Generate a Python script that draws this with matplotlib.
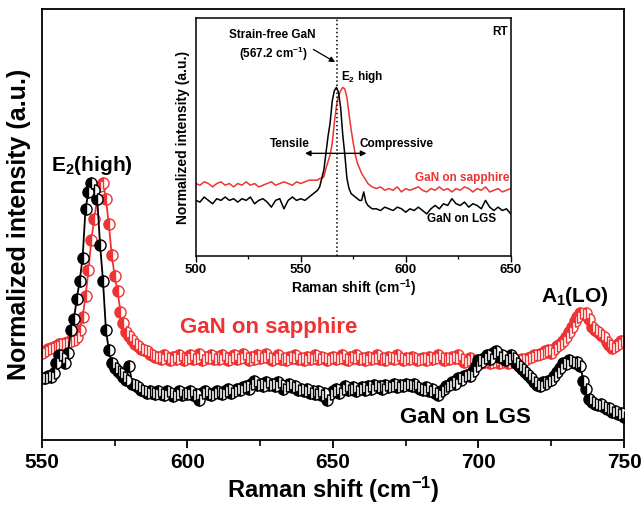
import numpy as np
import matplotlib
matplotlib.use("Agg")
import matplotlib.pyplot as plt
from matplotlib.ticker import MultipleLocator

plt.rcParams['font.family'] = ['Liberation Sans', 'DejaVu Sans']
plt.rcParams['font.weight'] = 'bold'
plt.rcParams['mathtext.fontset'] = 'custom'
plt.rcParams['mathtext.rm'] = 'Liberation Sans:bold'
plt.rcParams['mathtext.default'] = 'rm'

# ---------------- main spectra (Raman shift 550..750 cm-1, 1 cm-1 step) -------------
raman_shift = np.arange(550, 751, 1.0)

gan_on_lgs = [
    0.24, 0.24, 0.25, 0.245, 0.26, 0.30, 0.33, 0.32, 0.30, 0.34,
    0.43, 0.47, 0.55, 0.62, 0.71, 0.90, 0.965, 1.0, 0.975, 0.94,
    0.76, 0.62, 0.43, 0.35, 0.30, 0.28, 0.27, 0.26, 0.245, 0.235,
    0.29, 0.22, 0.215, 0.205, 0.195, 0.19, 0.183, 0.19, 0.185, 0.18,
    0.19, 0.18, 0.175, 0.19, 0.185, 0.17, 0.18, 0.19, 0.175, 0.185,
    0.18, 0.19, 0.175, 0.18, 0.155, 0.185, 0.19, 0.18, 0.175, 0.185,
    0.19, 0.185, 0.18, 0.19, 0.20, 0.185, 0.19, 0.20, 0.195, 0.205,
    0.21, 0.20, 0.22, 0.23, 0.215, 0.22, 0.21, 0.225, 0.215, 0.22,
    0.21, 0.225, 0.215, 0.20, 0.21, 0.22, 0.205, 0.21, 0.195, 0.20,
    0.19, 0.20, 0.185, 0.19, 0.18, 0.19, 0.175, 0.185, 0.155, 0.18,
    0.19, 0.20, 0.185, 0.20, 0.21, 0.195, 0.20, 0.205, 0.19, 0.20,
    0.205, 0.195, 0.21, 0.20, 0.215, 0.205, 0.21, 0.20, 0.215, 0.205,
    0.21, 0.22, 0.205, 0.215, 0.21, 0.22, 0.215, 0.21, 0.22, 0.205,
    0.20, 0.195, 0.205, 0.19, 0.20, 0.185, 0.175, 0.19, 0.20, 0.21,
    0.215, 0.225, 0.22, 0.24, 0.235, 0.25, 0.255, 0.25, 0.27, 0.29,
    0.31, 0.305, 0.32, 0.33, 0.315, 0.34, 0.345, 0.325, 0.33, 0.31,
    0.32, 0.33, 0.32, 0.30, 0.29, 0.275, 0.265, 0.255, 0.24, 0.225,
    0.215, 0.21, 0.225, 0.22, 0.23, 0.235, 0.25, 0.265, 0.28, 0.30,
    0.295, 0.31, 0.305, 0.30, 0.305, 0.29, 0.23, 0.20, 0.16, 0.15,
    0.14, 0.135, 0.14, 0.13, 0.12, 0.125, 0.11, 0.115, 0.10, 0.105,
    0.09,
]

gan_on_sapphire = [
    0.34, 0.345, 0.355, 0.36, 0.362, 0.365, 0.372, 0.375, 0.377, 0.38,
    0.385, 0.39, 0.40, 0.43, 0.48, 0.56, 0.66, 0.78, 0.86, 0.94,
    0.99, 1.0, 0.94, 0.84, 0.72, 0.64, 0.58, 0.50, 0.455, 0.42,
    0.405, 0.39, 0.375, 0.365, 0.355, 0.35, 0.345, 0.335, 0.33, 0.325,
    0.325, 0.315, 0.33, 0.32, 0.31, 0.325, 0.315, 0.33, 0.32, 0.31,
    0.32, 0.33, 0.315, 0.32, 0.335, 0.31, 0.325, 0.32, 0.33, 0.315,
    0.325, 0.315, 0.33, 0.32, 0.31, 0.325, 0.33, 0.315, 0.32, 0.335,
    0.32, 0.31, 0.325, 0.315, 0.33, 0.32, 0.325, 0.335, 0.32, 0.31,
    0.32, 0.33, 0.315, 0.32, 0.31, 0.325, 0.32, 0.33, 0.315, 0.32,
    0.31, 0.325, 0.315, 0.32, 0.33, 0.315, 0.325, 0.32, 0.31, 0.32,
    0.325, 0.315, 0.32, 0.33, 0.315, 0.31, 0.325, 0.32, 0.33, 0.315,
    0.32, 0.31, 0.325, 0.315, 0.32, 0.33, 0.315, 0.32, 0.31, 0.325,
    0.32, 0.315, 0.33, 0.32, 0.31, 0.32, 0.315, 0.325, 0.32, 0.31,
    0.315, 0.32, 0.31, 0.325, 0.315, 0.32, 0.33, 0.32, 0.31, 0.32,
    0.315, 0.325, 0.32, 0.33, 0.315, 0.305, 0.31, 0.32, 0.31, 0.305,
    0.31, 0.30, 0.305, 0.31, 0.30, 0.305, 0.31, 0.30, 0.305, 0.31,
    0.30, 0.305, 0.31, 0.305, 0.31, 0.315, 0.31, 0.32, 0.325, 0.33,
    0.33, 0.335, 0.34, 0.345, 0.35, 0.34, 0.355, 0.365, 0.375, 0.385,
    0.40, 0.42, 0.44, 0.465, 0.48, 0.495, 0.49, 0.495, 0.47, 0.44,
    0.43, 0.42, 0.41, 0.40, 0.38, 0.37, 0.36, 0.365, 0.375, 0.385,
    0.38,
]

# ---------------- inset spectra (500..650 cm-1) -------------
inset_shift = (list(range(500, 556, 2)) + list(range(556, 585, 1))
               + list(range(586, 651, 2)))

inset_lgs = [
    0.33, 0.32, 0.35, 0.33, 0.31, 0.34, 0.33, 0.35, 0.33, 0.34,
    0.32, 0.34, 0.33, 0.35, 0.31, 0.33, 0.34, 0.32, 0.29, 0.33,
    0.34, 0.28, 0.33, 0.35, 0.33, 0.34, 0.33, 0.35,
    0.37, 0.38, 0.39, 0.41, 0.46, 0.51, 0.61, 0.71, 0.79, 0.92,
    0.98, 1.0, 0.97, 0.88, 0.72, 0.60, 0.46, 0.40, 0.37, 0.36,
    0.35, 0.34, 0.33, 0.33, 0.38, 0.32, 0.30, 0.29, 0.28,
    0.28, 0.27, 0.29, 0.28, 0.27, 0.29, 0.28, 0.26, 0.28, 0.27,
    0.29, 0.27, 0.25, 0.28, 0.30, 0.28, 0.31, 0.30, 0.34, 0.31,
    0.30, 0.32, 0.29, 0.31, 0.30, 0.28, 0.33, 0.29, 0.27, 0.29,
    0.27, 0.28, 0.25,
]

inset_sapphire = [
    0.43, 0.42, 0.44, 0.43, 0.41, 0.43, 0.44, 0.42, 0.43, 0.41,
    0.43, 0.42, 0.44, 0.42, 0.43, 0.41, 0.42, 0.43, 0.44, 0.42,
    0.43, 0.44, 0.43, 0.42, 0.44, 0.43, 0.44, 0.45,
    0.45, 0.45, 0.45, 0.46, 0.46, 0.47, 0.52, 0.56, 0.60, 0.67,
    0.79, 0.89, 0.95, 0.98, 1.0, 0.99, 0.94, 0.84, 0.75, 0.67,
    0.60, 0.55, 0.52, 0.49, 0.47, 0.45, 0.43, 0.42, 0.41,
    0.40, 0.41, 0.39, 0.40, 0.39, 0.41, 0.38, 0.40, 0.39, 0.40,
    0.41, 0.39, 0.38, 0.40, 0.39, 0.41, 0.39, 0.40, 0.38, 0.40,
    0.39, 0.41, 0.40, 0.38, 0.40, 0.39, 0.41, 0.38, 0.39, 0.40,
    0.38, 0.39, 0.40,
]

strain_free = 567.2

RED = '#ee3334'

fig = plt.figure(figsize=(6.44, 5.07), dpi=100)
ax = fig.add_axes([0.065, 0.132, 0.904, 0.850])

ax.plot(raman_shift, gan_on_lgs, color='black', lw=1.3, marker='o', ms=8,
        fillstyle='left', markerfacecolor='black', markerfacecoloralt='white',
        markeredgecolor='black', markeredgewidth=1.0, zorder=3)
ax.plot(raman_shift, gan_on_sapphire, color=RED, lw=1.3, marker='o', ms=8,
        fillstyle='left', markerfacecolor=RED, markerfacecoloralt='white',
        markeredgecolor=RED, markeredgewidth=1.0, zorder=2)

ax.set_xlim(550, 750)
ax.set_ylim(0, 1.677)
ax.xaxis.set_major_locator(MultipleLocator(50))
ax.xaxis.set_minor_locator(MultipleLocator(25))
ax.set_yticks([])
ax.tick_params(axis='x', which='major', direction='out', length=6, width=1.3,
               labelsize=15, pad=3)
ax.tick_params(axis='x', which='minor', direction='out', length=4, width=1.2)
for lab in ax.get_xticklabels():
    lab.set_fontweight('bold')
for sp in ax.spines.values():
    sp.set_linewidth(1.3)

ax.set_xlabel('Raman shift (cm$^{-1}$)', fontsize=17, fontweight='bold', labelpad=2)
ax.set_ylabel('Normalized intensity (a.u.)', fontsize=18, fontweight='bold', labelpad=8)

ax.text(567.2, 1.07, 'E$_2$(high)', fontsize=15, fontweight='bold',
        ha='center', va='center', color='black')
ax.text(597.4, 0.44, 'GaN on sapphire', fontsize=16, fontweight='bold',
        ha='left', va='center', color=RED)
ax.text(673, 0.086, 'GaN on LGS', fontsize=16, fontweight='bold',
        ha='left', va='center', color='black')
ax.text(733.2, 0.56, 'A$_1$(LO)', fontsize=15, fontweight='bold',
        ha='center', va='center', color='black')

# ---------------- inset -------------
ins = fig.add_axes([0.304, 0.495, 0.489, 0.469])
ins.plot(inset_shift, inset_sapphire, color=RED, lw=1.1)
ins.plot(inset_shift, inset_lgs, color='black', lw=1.1)
ins.axvline(strain_free, color='black', ls=':', lw=1.1)
ins.set_xlim(500, 650)
ins.set_ylim(0, 1.41)
ins.xaxis.set_major_locator(MultipleLocator(50))
ins.xaxis.set_minor_locator(MultipleLocator(25))
ins.set_yticks([])
ins.tick_params(axis='x', which='major', direction='out', length=4, width=1.0,
                labelsize=9.5, pad=2)
ins.tick_params(axis='x', which='minor', direction='out', length=2.5, width=0.9)
for lab in ins.get_xticklabels():
    lab.set_fontweight('bold')
for sp in ins.spines.values():
    sp.set_linewidth(1.1)
ins.set_xlabel('Raman shift (cm$^{-1}$)', fontsize=10, fontweight='bold', labelpad=1)
ins.set_ylabel('Normalized intensity (a.u.)', fontsize=10, fontweight='bold', labelpad=4)

ins.text(536.2, 1.31, 'Strain-free GaN', fontsize=8.5, fontweight='bold',
         ha='center', va='center')
ins.text(537.0, 1.20, '(567.2 cm$^{-1}$)', fontsize=8.5, fontweight='bold',
         ha='center', va='center')
ins.annotate('', xy=(566.4, 1.15), xytext=(556.0, 1.225),
             arrowprops=dict(arrowstyle='-|>', color='black', lw=0.9,
                             mutation_scale=8, shrinkA=0, shrinkB=0))
ins.text(569.4, 1.06, 'E$_2$ high', fontsize=8.5, fontweight='bold',
         ha='left', va='center')
ins.text(544.9, 0.664, 'Tensile', fontsize=8.5, fontweight='bold',
         ha='center', va='center')
ins.text(578.2, 0.664, 'Compressive', fontsize=8.5, fontweight='bold',
         ha='left', va='center')
ins.annotate('', xy=(552.0, 0.609), xytext=(581.3, 0.609),
             arrowprops=dict(arrowstyle='<|-|>', color='black', lw=1.0,
                             mutation_scale=8, shrinkA=0, shrinkB=0))
ins.text(604.3, 0.464, 'GaN on sapphire', fontsize=8.5, fontweight='bold',
         ha='left', va='center', color=RED)
ins.text(609.9, 0.217, 'GaN on LGS', fontsize=8.5, fontweight='bold',
         ha='left', va='center', color='black')
ins.text(648.5, 1.33, 'RT', fontsize=8.5, fontweight='bold',
         ha='right', va='center')

fig.savefig('out.png', dpi=100)
